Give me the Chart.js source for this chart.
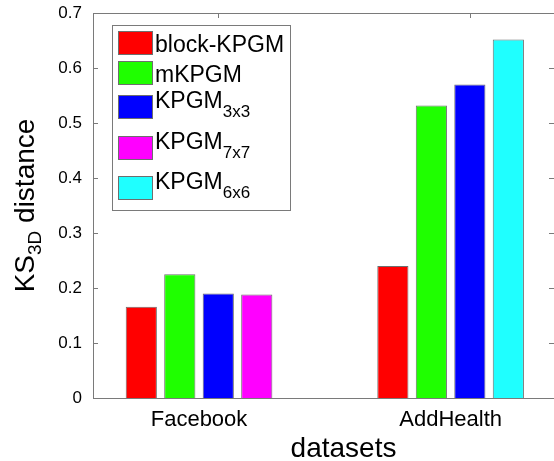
<!DOCTYPE html>
<html>
<head>
<meta charset="utf-8">
<script src="https://cdn.jsdelivr.net/npm/chart.js@4.4.0/dist/chart.umd.min.js"></script>
<style>
  html, body { margin: 0; padding: 0; background: #fff; }
  #wrap { width: 554px; height: 461px; }
</style>
</head>
<body>
<div id="wrap"><canvas id="ks_chart" width="554" height="461"></canvas></div>
<script>
// data
const categories = ['Facebook', 'AddHealth'];
const seriesNames = ['block-KPGM', 'mKPGM', 'KPGM_{3x3}', 'KPGM_{7x7}', 'KPGM_{6x6}'];
const seriesColors = ['#ff0000', '#1fff00', '#0000ff', '#ff00ff', '#1fffff'];
const blockKPGM = [0.166, 0.240];
const mKPGM = [0.225, 0.532];
const kpgm3x3 = [0.190, 0.570];
const kpgm7x7 = [0.188, null];
const kpgm6x6 = [null, 0.652];
const yTicks = [0, 0.1, 0.2, 0.3, 0.4, 0.5, 0.6, 0.7];
const xTitle = 'datasets';
const yTitle = 'KS_{3D} distance';

const FONT = '"Liberation Sans", Arial, Helvetica, sans-serif';
const AXIS = '#7a7a7a';

Chart.defaults.font.family = FONT;
Chart.defaults.color = '#000';

// split "A_{b}c" into normal / subscript pieces
function splitRich(text) {
  const m = text.match(/^(.*?)_\{(.*?)\}(.*)$/);
  if (!m) return [{t: text, sub: false}];
  return [{t: m[1], sub: false}, {t: m[2], sub: true}, {t: m[3], sub: false}].filter(p => p.t);
}

function richWidth(ctx, parts, size, subSize) {
  let w = 0;
  parts.forEach(p => {
    ctx.font = (p.sub ? subSize : size) + 'px ' + FONT;
    w += ctx.measureText(p.t).width;
  });
  return w;
}

function drawRich(ctx, parts, x, y, size, subSize, drop) {
  parts.forEach(p => {
    ctx.font = (p.sub ? subSize : size) + 'px ' + FONT;
    ctx.fillText(p.t, x, p.sub ? y + drop : y);
    x += ctx.measureText(p.t).width;
  });
}

const seriesValues = [blockKPGM, mKPGM, kpgm3x3, kpgm7x7, kpgm6x6];

const datasets = seriesValues.map((vals, s) => ({
  label: seriesNames[s],
  data: vals.map((v, i) => ({x: i + 1, y: v})),
  backgroundColor: seriesColors[s],
  borderColor: '#6e6e6e',
  borderWidth: 1,
  skipNull: true,
  categoryPercentage: 0.612,
  barPercentage: 0.81
}));

// matlab style frame: inward ticks, top line, axis titles, boxed legend
const matlabFrame = {
  id: 'matlabFrame',
  afterDraw(chart) {
    const ctx = chart.ctx;
    const {left, right, top, bottom} = chart.chartArea;
    const y = chart.scales.y;
    ctx.save();
    ctx.strokeStyle = AXIS;
    ctx.lineWidth = 1;
    ctx.beginPath();
    ctx.moveTo(left, top + 0.5);
    ctx.lineTo(right, top + 0.5);
    yTicks.forEach(v => {
      const py = Math.round(y.getPixelForValue(v)) + 0.5;
      ctx.moveTo(left, py); ctx.lineTo(left + 5, py);
      ctx.moveTo(right - 5, py); ctx.lineTo(right, py);
    });
    // top ticks sit over the middle slot of each group
    chart.getDatasetMeta(2).data.forEach(bar => {
      const px = Math.round(bar.x) + 0.5;
      ctx.moveTo(px, top); ctx.lineTo(px, top + 5);
    });
    ctx.stroke();

    ctx.fillStyle = '#000';
    ctx.textBaseline = 'alphabetic';

    // x title (the original axis runs past the crop, so it sits right of centre)
    ctx.textAlign = 'center';
    ctx.font = '28px ' + FONT;
    ctx.fillText(xTitle, (left + right) / 2 + 20, 457);

    // y title, rotated
    ctx.textAlign = 'left';
    const tParts = splitRich(yTitle);
    const tw = richWidth(ctx, tParts, 28, 19);
    ctx.save();
    ctx.translate(34, (top + bottom) / 2);
    ctx.rotate(-Math.PI / 2);
    drawRich(ctx, tParts, -tw / 2, 0, 28, 19, 7);
    ctx.restore();

    // legend
    const box = {x: 112, y: 25, w: 178, h: 185};
    const rowTops = [31, 61, 95, 136, 176];
    ctx.fillStyle = '#fff';
    ctx.fillRect(box.x, box.y, box.w, box.h);
    ctx.strokeStyle = AXIS;
    ctx.strokeRect(box.x + 0.5, box.y + 0.5, box.w, box.h);
    chart.data.datasets.forEach((ds, i) => {
      const ty = rowTops[i];
      ctx.fillStyle = ds.backgroundColor;
      ctx.fillRect(118, ty, 34, 23);
      ctx.strokeStyle = '#6e6e6e';
      ctx.strokeRect(118.5, ty + 0.5, 34, 23);
      const parts = splitRich(ds.label);
      ctx.fillStyle = '#000';
      const base = parts.length > 1 ? ty + 13 : ty + 21;
      drawRich(ctx, parts, 155, base, 23, 17, 9);
    });
    ctx.restore();
  }
};

const chart = new Chart(document.getElementById('ks_chart'), {
  type: 'bar',
  data: {datasets: datasets},
  options: {
    responsive: false,
    animation: false,
    layout: {padding: {top: 13, right: 0, left: 0, bottom: 0}},
    plugins: {
      legend: {display: false},
      tooltip: {enabled: false}
    },
    scales: {
      x: {
        type: 'linear',
        offset: false,
        min: 0.5785,
        max: 2.411,
        afterBuildTicks: (scale) => { scale.ticks = categories.map((c, i) => ({value: i + 1})); },
        afterFit: (scale) => { scale.height = 63; scale.paddingLeft = 0; scale.paddingRight = 0; },
        ticks: {
          callback: (v) => categories[v - 1],
          font: {size: 22},
          padding: 1,
          maxRotation: 0,
          autoSkip: false
        },
        grid: {display: false, offset: false},
        border: {color: AXIS, width: 1}
      },
      y: {
        min: 0,
        max: 0.7,
        afterBuildTicks: (scale) => { scale.ticks = yTicks.map(v => ({value: v})); },
        afterFit: (scale) => { scale.width = 93; scale.paddingTop = 0; scale.paddingBottom = 0; },
        ticks: {
          callback: (v) => v === 0 ? '0' : v.toFixed(1),
          font: {size: 17},
          padding: 11
        },
        grid: {display: false, drawTicks: false},
        border: {color: AXIS, width: 1}
      }
    }
  },
  plugins: [matlabFrame]
});
</script>
</body>
</html>
